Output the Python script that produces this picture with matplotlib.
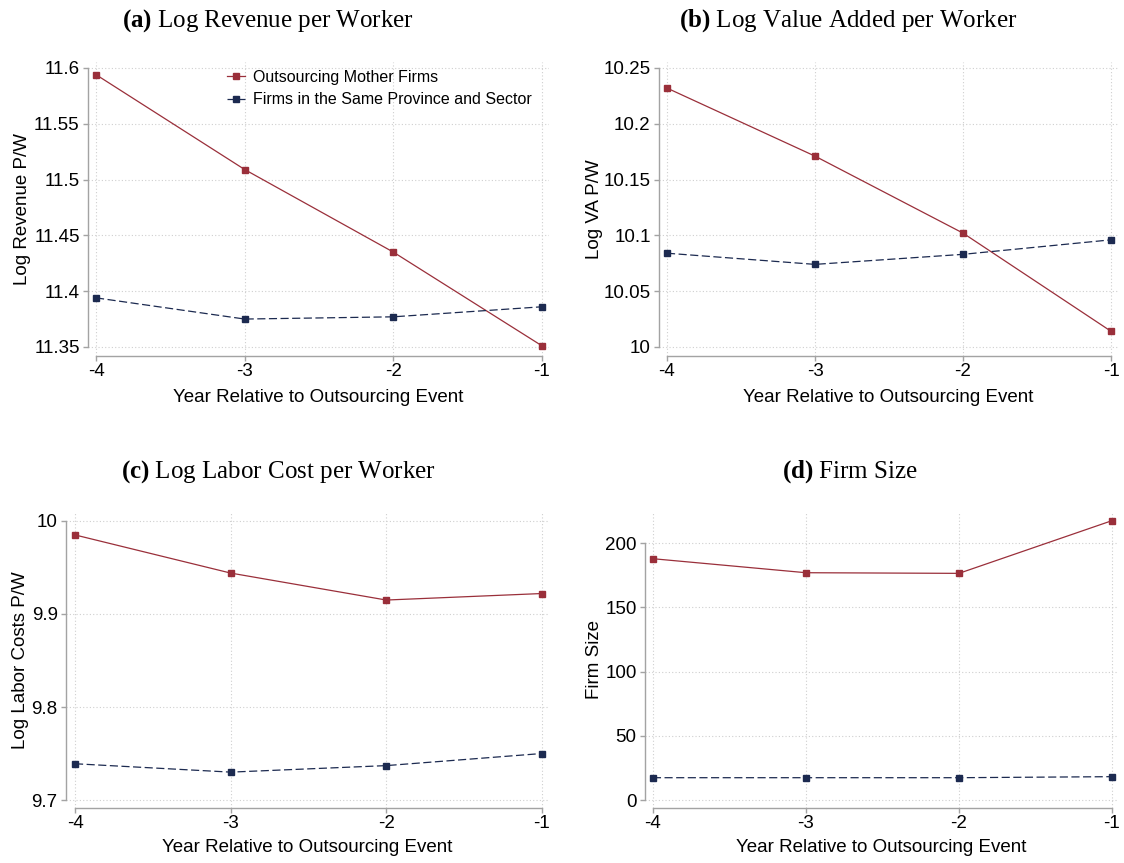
import matplotlib
matplotlib.use("Agg")
import matplotlib.pyplot as plt

plt.rcParams['font.family'] = ['Liberation Sans', 'DejaVu Sans']
plt.rcParams['mathtext.fontset'] = 'custom'
plt.rcParams['mathtext.rm'] = 'Liberation Serif'
plt.rcParams['mathtext.bf'] = 'Liberation Serif:bold'

# data
years = [-4, -3, -2, -1]

rev_mother = [11.594, 11.509, 11.435, 11.351]
rev_peers = [11.394, 11.375, 11.377, 11.386]

va_mother = [10.232, 10.171, 10.102, 10.014]
va_peers = [10.084, 10.074, 10.083, 10.096]

lab_mother = [9.985, 9.944, 9.915, 9.922]
lab_peers = [9.739, 9.730, 9.737, 9.750]

size_mother = [187.8, 176.9, 176.4, 217.4]
size_peers = [17.4, 17.4, 17.4, 18.2]

legend_labels = ['Outsourcing Mother Firms', 'Firms in the Same Province and Sector']
xlabel = 'Year Relative to Outsourcing Event'

red = '#9a2f3a'
navy = '#1c2a50'
axis_grey = '#a3a3a3'
grid_grey = '#cfcfcf'

fig = plt.figure(figsize=(11.24, 8.63), dpi=100)

# (position, xlim, ylim, yticks, ytick labels, ylabel, ylabel x, xlabel y)
panels = [
    ([0.0783, 0.5875, 0.4101, 0.3407], (-4.054, -0.953), (11.3419, 11.6054),
     [11.35, 11.4, 11.45, 11.5, 11.55, 11.6], ['11.35', '11.4', '11.45', '11.5', '11.55', '11.6'],
     'Log Revenue P/W', -0.124, -0.113, rev_mother, rev_peers),
    ([0.5863, 0.5875, 0.4084, 0.3407], (-4.054, -0.953), (9.9919, 10.2554),
     [10, 10.05, 10.1, 10.15, 10.2, 10.25], ['10', '10.05', '10.1', '10.15', '10.2', '10.25'],
     'Log VA P/W', -0.122, -0.113, va_mother, va_peers),
    ([0.0587, 0.0637, 0.4288, 0.3434], (-4.058, -0.961), (9.6914, 10.0100),
     [9.7, 9.8, 9.9, 10], ['9.7', '9.8', '9.9', '10'],
     'Log Labor Costs P/W', -0.076, -0.106, lab_mother, lab_peers),
    ([0.5738, 0.0637, 0.4208, 0.3434], (-4.052, -0.961), (-6.2, 224.4),
     [0, 50, 100, 150, 200], ['0', '50', '100', '150', '200'],
     'Firm Size', -0.089, -0.106, size_mother, size_peers),
]

titles = [r'$\mathbf{(a)}$ Log Revenue per Worker',
          r'$\mathbf{(b)}$ Log Value Added per Worker',
          r'$\mathbf{(c)}$ Log Labor Cost per Worker',
          r'$\mathbf{(d)}$ Firm Size']
title_pos = [(268, 21), (848, 21), (278, 472), (850, 472)]

axes = []
for (pos, xl, yl, yt, ytl, ylab, ylx, xly, mother, peers), title, tp in zip(panels, titles, title_pos):
    ax = fig.add_axes(pos)
    ax.plot(years, mother, color=red, lw=0.9, marker='s', ms=5, mec=red, mfc=red,
            label=legend_labels[0], zorder=3)
    ax.plot(years, peers, color=navy, lw=0.9, marker='s', ms=5, mec=navy, mfc=navy,
            dashes=(6.5, 2.8), label=legend_labels[1], zorder=3)
    ax.set_xlim(xl)
    ax.set_ylim(yl)
    ax.set_xticks(years)
    ax.set_xticklabels([str(y) for y in years])
    ax.set_yticks(yt)
    ax.set_yticklabels(ytl)
    ax.grid(True, color=grid_grey, lw=0.8, linestyle=(0, (1, 2)))
    ax.set_axisbelow(True)
    for s in ['top', 'right']:
        ax.spines[s].set_visible(False)
    for s in ['left', 'bottom']:
        ax.spines[s].set_color(axis_grey)
        ax.spines[s].set_linewidth(1.0)
    ax.spines['left'].set_bounds(yt[0], yt[-1])
    ax.spines['bottom'].set_bounds(years[0], years[-1])
    ax.tick_params(axis='both', colors=axis_grey, labelcolor='black', labelsize=13.5,
                   length=3.5, width=1.0)
    ax.tick_params(axis='x', pad=1.5)
    ax.tick_params(axis='y', pad=2.5)
    ax.set_ylabel(ylab, fontsize=13.5)
    ax.yaxis.set_label_coords(ylx, 0.5)
    ax.set_xlabel(xlabel, fontsize=13.5)
    ax.xaxis.set_label_coords(0.5, xly)
    fig.text(tp[0] / 1124, 1 - tp[1] / 863, title, ha='center', va='center',
             fontsize=18, family='Liberation Serif')
    axes.append(ax)

axes[0].legend(loc='upper left', bbox_to_anchor=(227 / 1124, 1 - 70 / 863),
               bbox_transform=fig.transFigure, frameon=False, fontsize=11.5,
               handlelength=1.1, handletextpad=0.5, labelspacing=0.45, borderpad=0,
               borderaxespad=0, markerscale=0.8)

fig.savefig('out.png', dpi=100)
